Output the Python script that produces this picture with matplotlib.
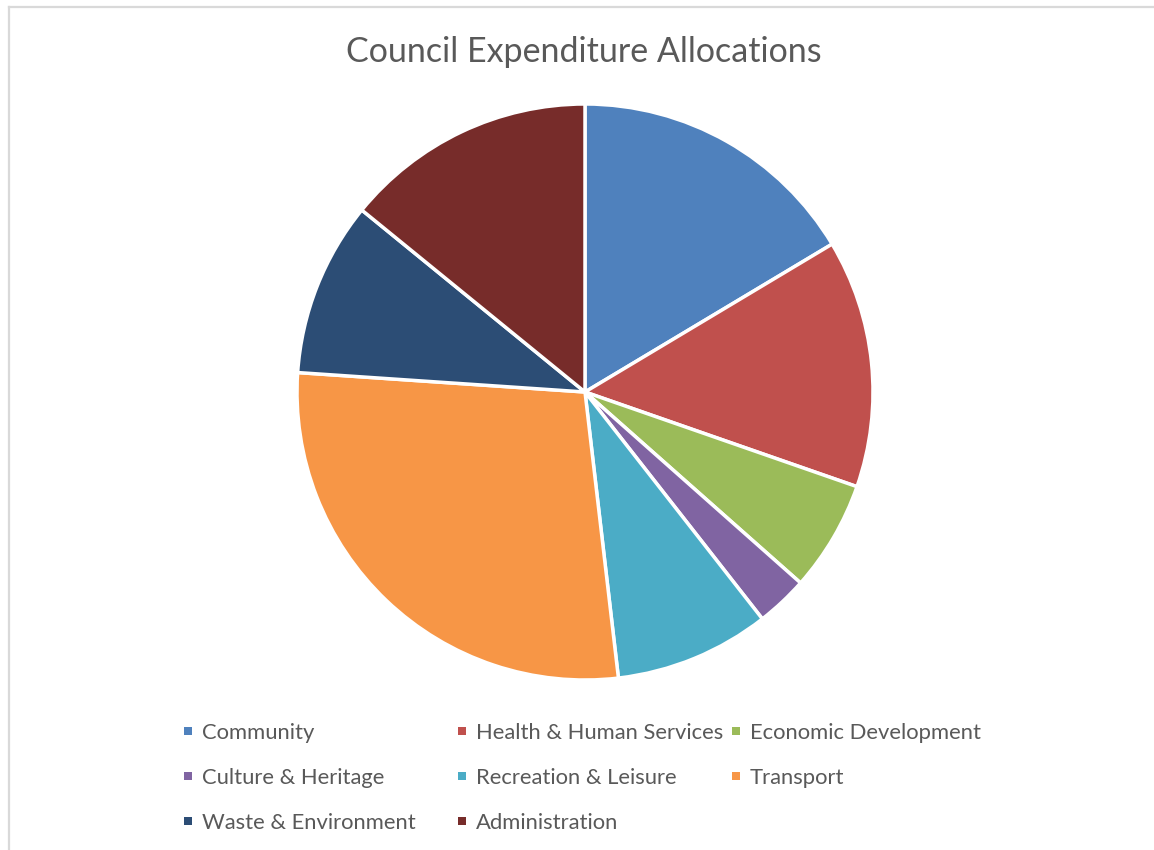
import matplotlib
matplotlib.use("Agg")
import matplotlib.pyplot as plt
from matplotlib.lines import Line2D
from matplotlib.patches import Rectangle

categories = [
    "Community",
    "Health & Human Services",
    "Economic Development",
    "Culture & Heritage",
    "Recreation & Leisure",
    "Transport",
    "Waste & Environment",
    "Administration",
]
shares = [16.4, 13.9, 6.2, 2.9, 8.7, 27.9, 9.8, 14.1]
colors = ["#4F81BD", "#C0504D", "#9BBB59", "#8064A2",
          "#4BACC6", "#F79646", "#2C4D75", "#772C2A"]
title = "Council Expenditure Allocations"

W, H = 1154, 850
fig = plt.figure(figsize=(W / 100, H / 100), dpi=100)
fig.patch.set_facecolor("white")

# chart frame (left and top edges visible)
fig.add_artist(Line2D([8.5 / W, 8.5 / W], [0, 1 - 6.5 / H],
                      transform=fig.transFigure, color="#D9D9D9", lw=1.6))
fig.add_artist(Line2D([8.5 / W, 1], [1 - 6.5 / H, 1 - 6.5 / H],
                      transform=fig.transFigure, color="#D9D9D9", lw=1.6))

# pie
cx, cy, r = 585, 392, 288
ax = fig.add_axes([(cx - r) / W, (H - cy - r) / H, 2 * r / W, 2 * r / H])
ax.pie(shares, colors=colors, startangle=90, counterclock=False, radius=1,
       wedgeprops=dict(edgecolor="white", linewidth=2.5, joinstyle="miter"))
ax.set_xlim(-1.0, 1.0)
ax.set_ylim(-1.0, 1.0)
ax.set_aspect("equal")
ax.axis("off")

fig.text(584 / W, 1 - 52 / H, title, ha="center", va="center",
         fontsize=24.5, color="#595959", family="Lato")

# legend: three equal-width columns
col_x = [188, 462, 736]
row_y = [731, 776, 821]
for i, (lab, col) in enumerate(zip(categories, colors)):
    x = col_x[i % 3]
    y = row_y[i // 3]
    fig.add_artist(Rectangle(((x - 4) / W, 1 - (y + 4) / H), 8 / W, 8 / H,
                             transform=fig.transFigure, facecolor=col,
                             edgecolor="none"))
    fig.text((x + 14) / W, 1 - (y + 2) / H, lab, ha="left", va="center",
             fontsize=15.8, color="#595959", family="Lato")

fig.savefig("out.png", dpi=100, facecolor="white")
